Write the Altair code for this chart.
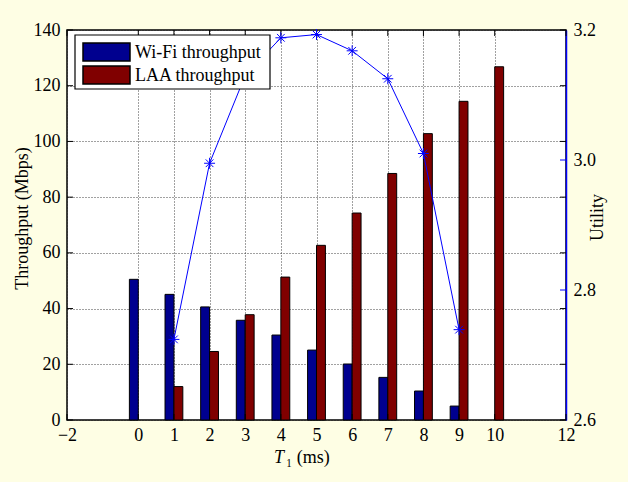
import altair as alt
import pandas as pd

# ---- data ----
T = [0, 1, 2, 3, 4, 5, 6, 7, 8, 9, 10]
wifi = [50.5, 45.1, 40.6, 35.8, 30.5, 25.1, 20.1, 15.3, 10.4, 5.0, 0.0]
laa = [0.0, 12.0, 24.6, 37.8, 51.3, 62.7, 74.3, 88.5, 102.8, 114.4, 126.8]
util_T = [1, 2, 3, 4, 5, 6, 7, 8, 9]
util = [2.724, 2.995, 3.13, 3.188, 3.193, 3.168, 3.125, 3.010, 2.739]

series = ["Wi-Fi throughput", "LAA throughput"]
colors = ["#00008f", "#800000"]
x_ticks = [-2, 0, 1, 2, 3, 4, 5, 6, 7, 8, 9, 10, 12]
y_ticks = [0, 20, 40, 60, 80, 100, 120, 140]
u_ticks = [2.6, 2.8, 3.0, 3.2]
x_title_var = "T"
x_title_rest = "₁ (ms)"

FONT = "Liberation Serif"
W, H = 499, 390

bar_df = pd.DataFrame({"T": T * 2,
                       "value": wifi + laa,
                       "series": [series[0]] * len(T) + [series[1]] * len(T)})
bar_df = bar_df[bar_df["value"] > 0]
util_df = pd.DataFrame({"T": util_T, "u": util})
xt_df = pd.DataFrame({"x1": x_ticks})
yt_df = pd.DataFrame({"value": y_ticks})
ut_df = pd.DataFrame({"u": u_ticks[1:-1]})
leg_df = pd.DataFrame({"series": series})

xscale = alt.Scale(domain=[-2, 12], nice=False, zero=False)
yscale = alt.Scale(domain=[0, 140], nice=False)
uscale = alt.Scale(domain=[2.6, 3.2], nice=False, zero=False)
cscale = alt.Scale(domain=series, range=colors)

GRID = dict(grid=True, gridDash=[1, 2], gridColor="#222", gridOpacity=0.85)
xaxis = alt.Axis(values=x_ticks, ticks=False, tickSize=0, domain=False,
                 labelPadding=6, title=None, labelFlush=False, **GRID)
yaxis = alt.Axis(values=y_ticks, ticks=False, tickSize=0, domain=False,
                 labelPadding=7, title="Throughput (Mbps)", titleX=-45, titleY=188,
                 titleAngle=270, titleBaseline="middle", titleAlign="center", **GRID)
uaxis = alt.Axis(values=u_ticks, format=".1f", orient="right", grid=False,
                 ticks=False, tickSize=0, domain=True, domainColor="#0000ff",
                 domainWidth=1.5, labelPadding=7, title="Utility",
                 titleX=31, titleY=187, titleAngle=270, titleBaseline="middle",
                 titleAlign="center")

bars = alt.Chart(bar_df).transform_calculate(
    x1="datum.series == 'Wi-Fi throughput' ? datum.T - 0.25 : datum.T",
    x2="datum.series == 'Wi-Fi throughput' ? datum.T : datum.T + 0.25",
).mark_rect(stroke="black", strokeWidth=1).encode(
    x=alt.X("x1:Q", scale=xscale, axis=xaxis),
    x2="x2:Q",
    y=alt.Y("value:Q", scale=yscale, axis=yaxis),
    y2=alt.datum(0),
    color=alt.Color("series:N", scale=cscale, legend=None),
)

left_ticks = alt.Chart(yt_df).mark_rule(color="black", strokeWidth=1).encode(
    y=alt.Y("value:Q", scale=yscale), x=alt.value(0), x2=alt.value(6))
right_ticks_black = alt.Chart(yt_df).mark_rule(color="black", strokeWidth=1).encode(
    y=alt.Y("value:Q", scale=yscale), x=alt.value(W - 6), x2=alt.value(W))
bottom_ticks = alt.Chart(xt_df).mark_rule(color="black", strokeWidth=1).encode(
    x=alt.X("x1:Q", scale=xscale), y=alt.value(H), y2=alt.value(H - 6))
top_ticks = alt.Chart(xt_df).mark_rule(color="black", strokeWidth=1).encode(
    x=alt.X("x1:Q", scale=xscale), y=alt.value(0), y2=alt.value(6))

left_layer = alt.layer(bars, left_ticks, right_ticks_black, bottom_ticks, top_ticks)

uline = alt.Chart(util_df).transform_calculate(x1="datum.T").mark_line(
    color="#0000ff", strokeWidth=1).encode(
    x=alt.X("x1:Q", scale=xscale),
    y=alt.Y("u:Q", scale=uscale, axis=uaxis))
STAR = "M-1,0L1,0M0,-1L0,1M-0.7,-0.7L0.7,0.7M-0.7,0.7L0.7,-0.7"
upts = alt.Chart(util_df).transform_calculate(x1="datum.T").mark_point(
    shape=STAR, size=120, filled=False, color="#0000ff", strokeWidth=1,
    opacity=1).encode(
    x=alt.X("x1:Q", scale=xscale),
    y=alt.Y("u:Q", scale=uscale))
uticks = alt.Chart(ut_df).mark_rule(color="#0000ff", strokeWidth=1).encode(
    y=alt.Y("u:Q", scale=uscale), x=alt.value(W - 6), x2=alt.value(W))
right_layer = alt.layer(uline, upts, uticks)

# legend drawn by hand (box + swatches + labels)
leg_base = alt.Chart(leg_df).transform_window(idx="row_number()").transform_calculate(
    sy="13 + (datum.idx - 1) * 23", sy2="31 + (datum.idx - 1) * 23",
    ty="22.5 + (datum.idx - 1) * 23")
leg_box = alt.Chart(pd.DataFrame({"k": [0]})).mark_rect(
    fill="white", stroke="black", strokeWidth=1.2).encode(
    x=alt.value(8), x2=alt.value(203), y=alt.value(5), y2=alt.value(59))
leg_sw = leg_base.mark_rect(stroke="black", strokeWidth=1.5).encode(
    x=alt.value(16), x2=alt.value(63),
    y=alt.Y("sy:Q", scale=None, axis=None), y2="sy2:Q",
    color=alt.Color("series:N", scale=cscale, legend=None))
leg_tx = leg_base.mark_text(align="left", baseline="middle", font=FONT,
                            fontSize=18, color="black").encode(
    x=alt.value(68), y=alt.Y("ty:Q", scale=None, axis=None), text="series:N")

# x-axis title with italic variable
title_df = pd.DataFrame({"a": [x_title_var], "b": [x_title_rest]})
xt_var = alt.Chart(title_df).mark_text(align="left", baseline="middle", font=FONT,
                                       fontSize=18, fontStyle="italic",
                                       color="black").encode(
    x=alt.value(207), y=alt.value(H + 38), text="a:N")
xt_rest = alt.Chart(title_df).mark_text(align="left", baseline="middle", font=FONT,
                                        fontSize=18, color="black").encode(
    x=alt.value(219), y=alt.value(H + 38), text="b:N")
legend_layer = alt.layer(leg_box, leg_sw, leg_tx, xt_var, xt_rest)

chart = alt.layer(left_layer, right_layer, legend_layer).resolve_scale(
    y="independent"
).properties(
    width=W, height=H,
    background="#fefee4",
    padding={"left": 67, "top": 30, "right": 62, "bottom": 62},
    autosize=alt.AutoSizeParams(type="none"),
).configure_view(
    stroke="black", strokeWidth=1.5, fill="white"
).configure_axis(
    labelFont=FONT, labelFontSize=18, labelColor="black",
    titleFont=FONT, titleFontSize=18, titleColor="black", titleFontWeight="normal",
)

chart.save("out.html", embed_options={"renderer": "svg", "actions": False})
